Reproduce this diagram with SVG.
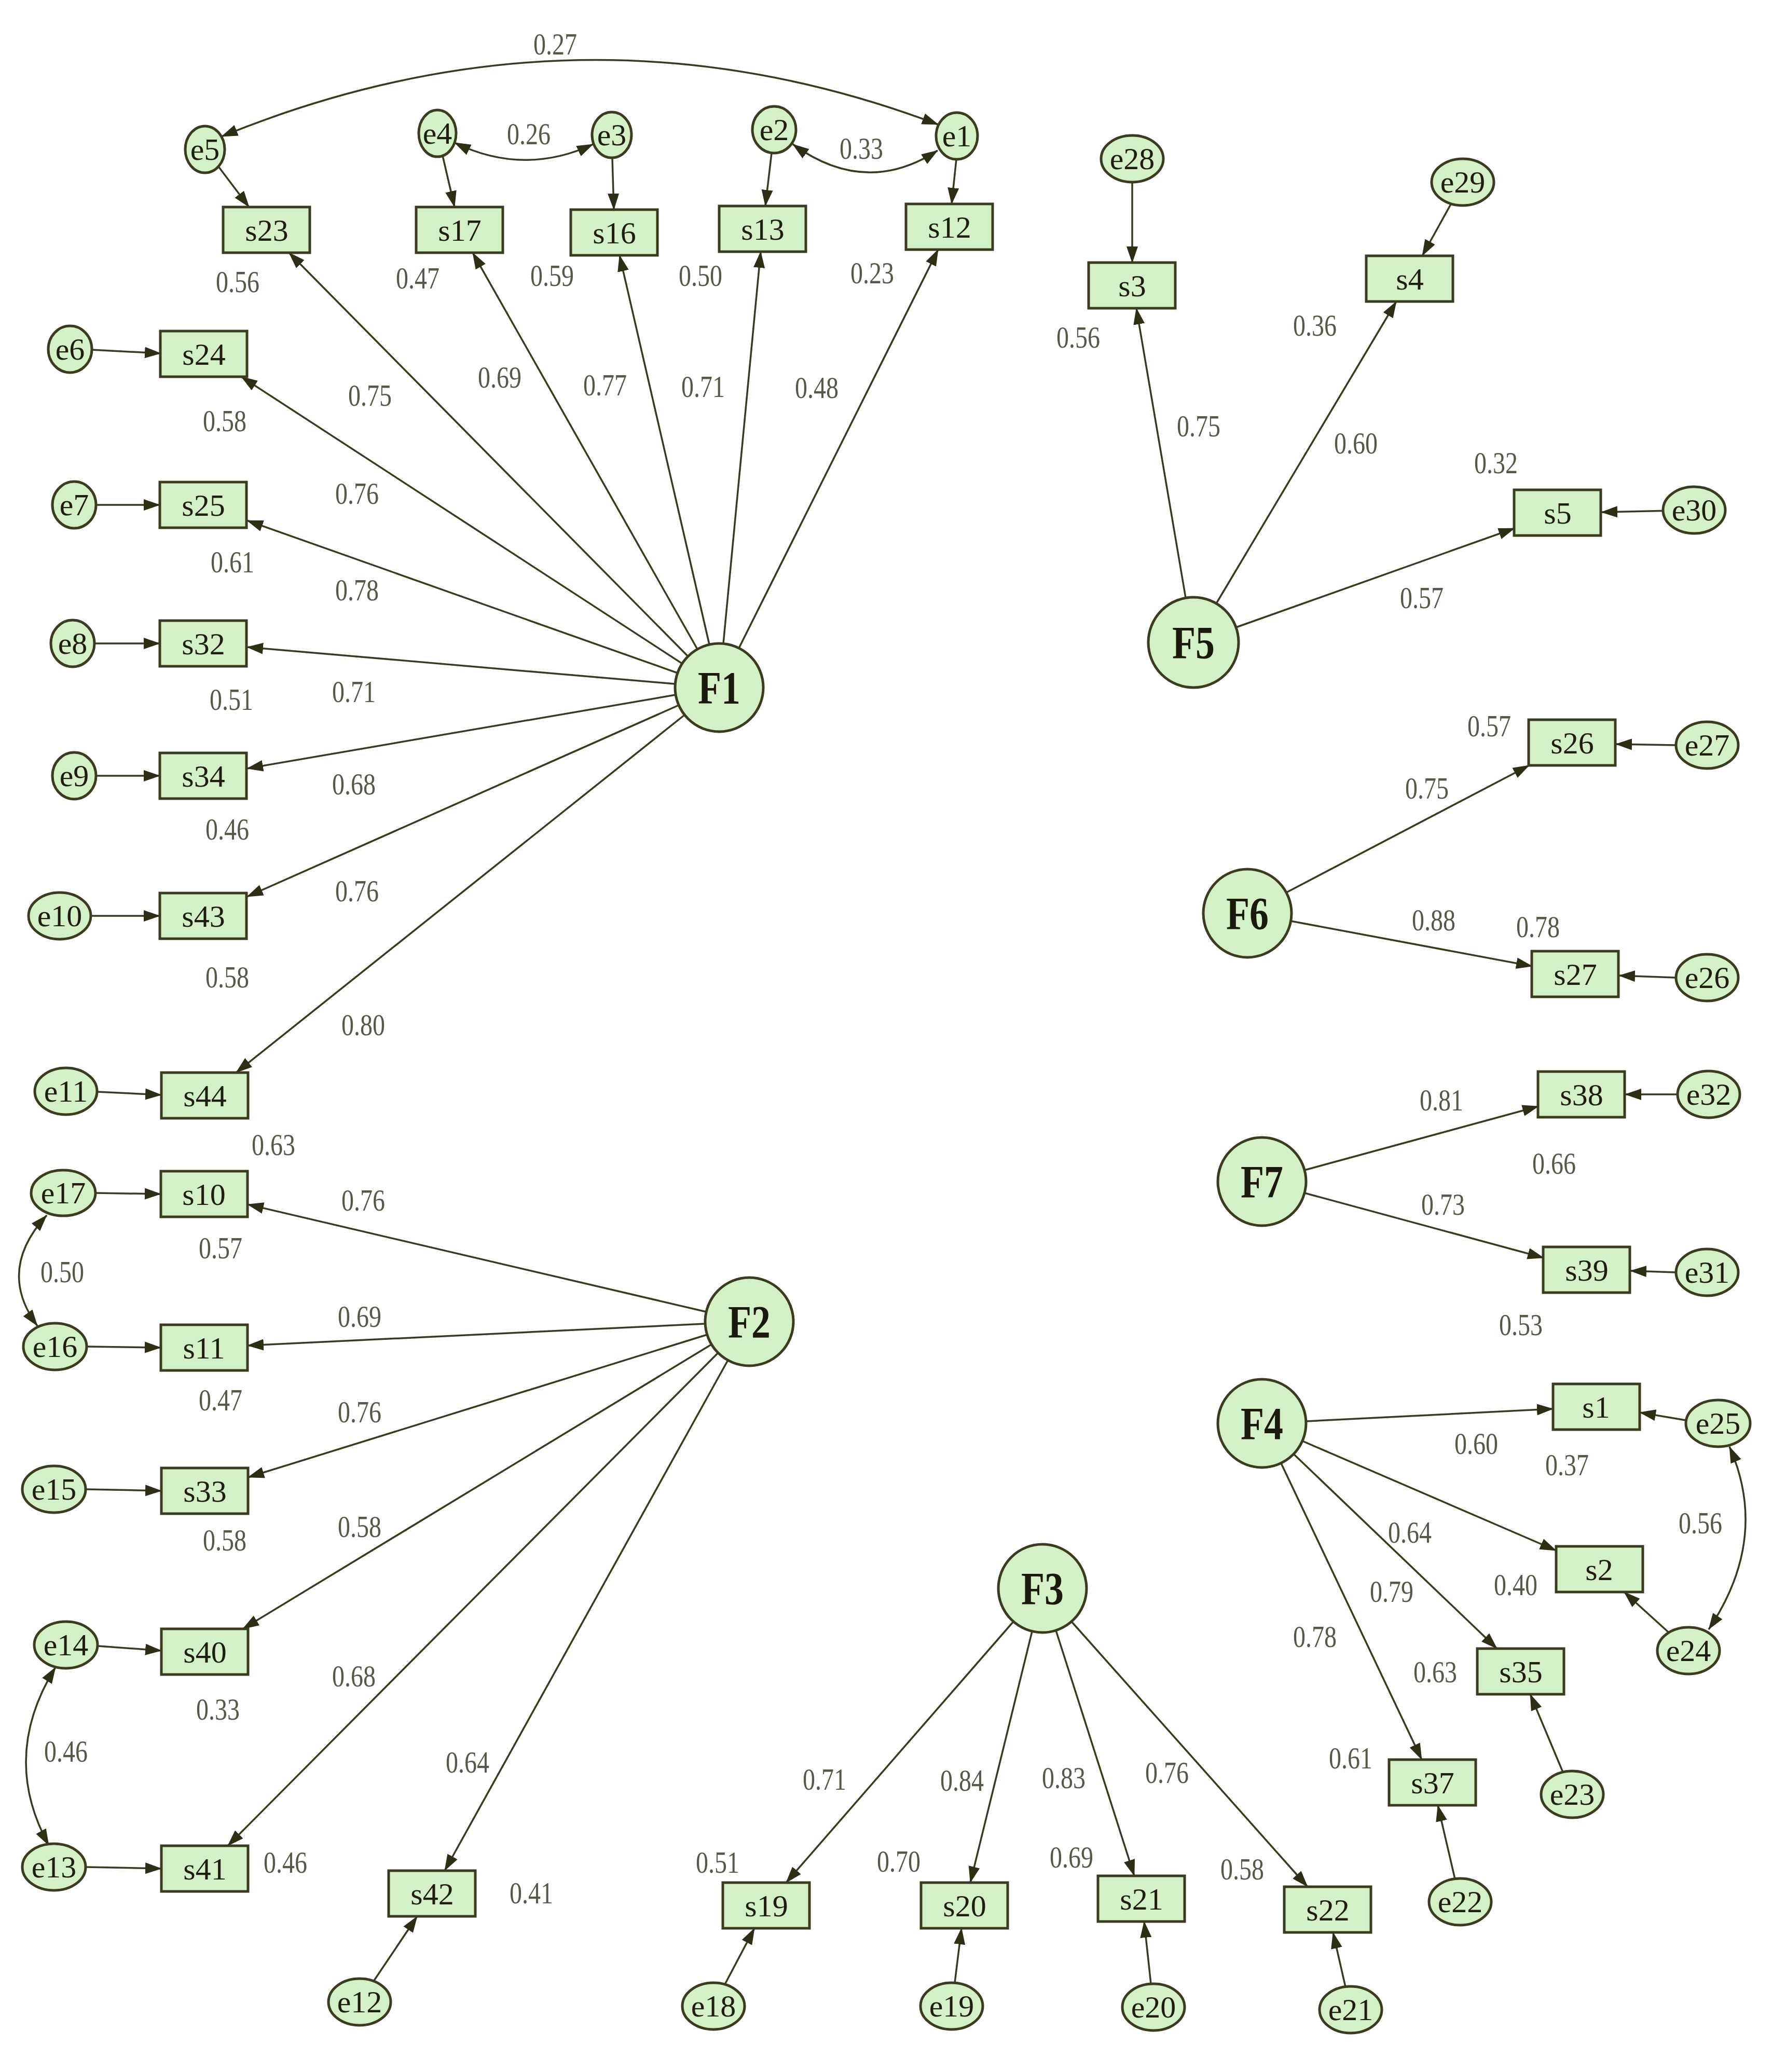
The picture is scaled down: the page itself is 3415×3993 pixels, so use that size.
<svg xmlns="http://www.w3.org/2000/svg" width="3415" height="3993" viewBox="0 0 3415 3993">
<style>
.box{fill:#d4f0c6;stroke:#3b3b20;stroke-width:5}
.lat{fill:#d4f0c6;stroke:#3b3b20;stroke-width:5}
.nt{font-family:"Liberation Serif",serif;font-size:60px;fill:#1e1e10;text-anchor:middle}
.ft{font-family:"Liberation Serif",serif;font-size:88px;font-weight:bold;fill:#1a1a0c;text-anchor:middle}
.lb{font-family:"Liberation Serif",serif;font-size:60px;fill:#58584a;text-anchor:middle}
.c{fill:none;stroke:#3a3a1e;stroke-width:3.5;marker-end:url(#ah)}
.cv{fill:none;stroke:#3a3a1e;stroke-width:3.5;marker-end:url(#ah);marker-start:url(#ah)}
</style>
<defs>
<marker id="ah" markerUnits="userSpaceOnUse" markerWidth="32" markerHeight="24" viewBox="0 0 32 24" refX="31" refY="12" orient="auto-start-reverse">
<path d="M0,1 L32,12 L0,23 Z" fill="#2e2e14"/>
</marker>
</defs>
<rect width="3415" height="3993" fill="#ffffff"/>

<g id="connectors">
<line class="c" x1="1326" y1="1265" x2="557" y2="487"/>
<line class="c" x1="1344" y1="1251" x2="911" y2="487"/>
<line class="c" x1="1367" y1="1242" x2="1194" y2="492"/>
<line class="c" x1="1394" y1="1240" x2="1466" y2="485"/>
<line class="c" x1="1424" y1="1249" x2="1808" y2="481"/>
<line class="c" x1="1315" y1="1279" x2="465" y2="726"/>
<line class="c" x1="1306" y1="1297" x2="476" y2="1003"/>
<line class="c" x1="1301" y1="1318" x2="476" y2="1247"/>
<line class="c" x1="1302" y1="1339" x2="476" y2="1481"/>
<line class="c" x1="1308" y1="1359" x2="476" y2="1728"/>
<line class="c" x1="1319" y1="1378" x2="455" y2="2067"/>
<line class="c" x1="1361" y1="2528" x2="477" y2="2321"/>
<line class="c" x1="1359" y1="2551" x2="477" y2="2593"/>
<line class="c" x1="1363" y1="2572" x2="478" y2="2847"/>
<line class="c" x1="1371" y1="2591" x2="468" y2="3139"/>
<line class="c" x1="1384" y1="2607" x2="439" y2="3557"/>
<line class="c" x1="1403" y1="2621" x2="857" y2="3605"/>
<line class="c" x1="1953" y1="3125" x2="1515" y2="3628"/>
<line class="c" x1="1989" y1="3144" x2="1870" y2="3628"/>
<line class="c" x1="2035" y1="3142" x2="2186" y2="3615"/>
<line class="c" x1="2065" y1="3125" x2="2520" y2="3636"/>
<line class="c" x1="2517" y1="2739" x2="2993" y2="2715"/>
<line class="c" x1="2510" y1="2777" x2="2999" y2="2988"/>
<line class="c" x1="2493" y1="2802" x2="2885" y2="3177"/>
<line class="c" x1="2469" y1="2820" x2="2740" y2="3391"/>
<line class="c" x1="2285" y1="1152" x2="2190" y2="594"/>
<line class="c" x1="2344" y1="1163" x2="2691" y2="581"/>
<line class="c" x1="2382" y1="1209" x2="2919" y2="1018"/>
<line class="c" x1="2479" y1="1720" x2="2947" y2="1475"/>
<line class="c" x1="2488" y1="1775" x2="2953" y2="1862"/>
<line class="c" x1="2514" y1="2255" x2="2965" y2="2132"/>
<line class="c" x1="2514" y1="2299" x2="2975" y2="2424"/>
<line class="c" x1="421" y1="321" x2="480" y2="399"/>
<line class="c" x1="853" y1="300" x2="876" y2="399"/>
<line class="c" x1="1180" y1="304" x2="1183" y2="404"/>
<line class="c" x1="1487" y1="295" x2="1475" y2="397"/>
<line class="c" x1="1843" y1="307" x2="1834" y2="393"/>
<line class="c" x1="177" y1="674" x2="310" y2="681"/>
<line class="c" x1="185" y1="973" x2="308" y2="973"/>
<line class="c" x1="182" y1="1240" x2="308" y2="1240"/>
<line class="c" x1="185" y1="1495" x2="308" y2="1495"/>
<line class="c" x1="175" y1="1765" x2="308" y2="1765"/>
<line class="c" x1="187" y1="2104" x2="311" y2="2110"/>
<line class="c" x1="184" y1="2299" x2="310" y2="2301"/>
<line class="c" x1="167" y1="2595" x2="310" y2="2597"/>
<line class="c" x1="165" y1="2870" x2="311" y2="2873"/>
<line class="c" x1="188" y1="3172" x2="311" y2="3181"/>
<line class="c" x1="165" y1="3598" x2="311" y2="3601"/>
<line class="c" x1="720" y1="3818" x2="804" y2="3693"/>
<line class="c" x1="1397" y1="3824" x2="1454" y2="3716"/>
<line class="c" x1="1840" y1="3821" x2="1853" y2="3716"/>
<line class="c" x1="2218" y1="3823" x2="2205" y2="3703"/>
<line class="c" x1="2593" y1="3829" x2="2569" y2="3724"/>
<line class="c" x1="2804" y1="3621" x2="2771" y2="3479"/>
<line class="c" x1="3012" y1="3415" x2="2949" y2="3265"/>
<line class="c" x1="3216" y1="3146" x2="3130" y2="3068"/>
<line class="c" x1="3249" y1="2737" x2="3160" y2="2722"/>
<line class="c" x1="3230" y1="1884" x2="3120" y2="1880"/>
<line class="c" x1="3230" y1="1436" x2="3114" y2="1434"/>
<line class="c" x1="2182" y1="351" x2="2182" y2="506"/>
<line class="c" x1="2798" y1="390" x2="2741" y2="493"/>
<line class="c" x1="3222" y1="984" x2="3086" y2="987"/>
<line class="c" x1="3230" y1="2452" x2="3142" y2="2449"/>
<line class="c" x1="3233" y1="2109" x2="3132" y2="2109"/>
<path class="cv" d="M1808,240 Q1120,-20 427,263"/>
<path class="cv" d="M876,275 Q1010,340 1143,278"/>
<path class="cv" d="M1528,278 Q1668,380 1807,290"/>
<path class="cv" d="M90,2342 Q-7,2448 72,2555"/>
<path class="cv" d="M107,3213 Q0,3385 94,3556"/>
<path class="cv" d="M3333,2788 Q3411,2964 3293,3140"/>
</g>

<g id="F1"><circle class="lat" cx="1386" cy="1325" r="85"/><text class="ft" x="1386" y="1355" textLength="82" lengthAdjust="spacingAndGlyphs">F1</text></g>
<g id="F2"><circle class="lat" cx="1444" cy="2547" r="85"/><text class="ft" x="1444" y="2577" textLength="82" lengthAdjust="spacingAndGlyphs">F2</text></g>
<g id="F3"><circle class="lat" cx="2009" cy="3061" r="85"/><text class="ft" x="2009" y="3091" textLength="82" lengthAdjust="spacingAndGlyphs">F3</text></g>
<g id="F4"><circle class="lat" cx="2432" cy="2743" r="85"/><text class="ft" x="2432" y="2773" textLength="82" lengthAdjust="spacingAndGlyphs">F4</text></g>
<g id="F5"><circle class="lat" cx="2300" cy="1238" r="87"/><text class="ft" x="2300" y="1268" textLength="82" lengthAdjust="spacingAndGlyphs">F5</text></g>
<g id="F6"><circle class="lat" cx="2404" cy="1760" r="85"/><text class="ft" x="2404" y="1790" textLength="82" lengthAdjust="spacingAndGlyphs">F6</text></g>
<g id="F7"><circle class="lat" cx="2432" cy="2277" r="85"/><text class="ft" x="2432" y="2307" textLength="82" lengthAdjust="spacingAndGlyphs">F7</text></g>

<g id="s23"><rect class="box" x="430" y="399" width="167" height="88"/><text class="nt" x="514" y="464">s23</text></g>
<g id="s17"><rect class="box" x="802" y="399" width="167" height="88"/><text class="nt" x="886" y="464">s17</text></g>
<g id="s16"><rect class="box" x="1100" y="404" width="167" height="88"/><text class="nt" x="1184" y="469">s16</text></g>
<g id="s13"><rect class="box" x="1386" y="397" width="167" height="88"/><text class="nt" x="1470" y="462">s13</text></g>
<g id="s12"><rect class="box" x="1746" y="393" width="167" height="88"/><text class="nt" x="1830" y="458">s12</text></g>
<g id="s24"><rect class="box" x="309" y="638" width="167" height="88"/><text class="nt" x="393" y="703">s24</text></g>
<g id="s25"><rect class="box" x="308" y="929" width="167" height="88"/><text class="nt" x="392" y="994">s25</text></g>
<g id="s32"><rect class="box" x="308" y="1196" width="167" height="88"/><text class="nt" x="392" y="1261">s32</text></g>
<g id="s34"><rect class="box" x="308" y="1451" width="167" height="88"/><text class="nt" x="392" y="1516">s34</text></g>
<g id="s43"><rect class="box" x="308" y="1721" width="167" height="88"/><text class="nt" x="392" y="1786">s43</text></g>
<g id="s44"><rect class="box" x="311" y="2067" width="167" height="88"/><text class="nt" x="395" y="2132">s44</text></g>
<g id="s10"><rect class="box" x="310" y="2257" width="167" height="88"/><text class="nt" x="393" y="2322">s10</text></g>
<g id="s11"><rect class="box" x="310" y="2553" width="167" height="88"/><text class="nt" x="393" y="2618">s11</text></g>
<g id="s33"><rect class="box" x="311" y="2829" width="167" height="88"/><text class="nt" x="395" y="2894">s33</text></g>
<g id="s40"><rect class="box" x="311" y="3139" width="167" height="88"/><text class="nt" x="395" y="3204">s40</text></g>
<g id="s41"><rect class="box" x="311" y="3557" width="167" height="88"/><text class="nt" x="395" y="3622">s41</text></g>
<g id="s42"><rect class="box" x="749" y="3605" width="167" height="88"/><text class="nt" x="833" y="3670">s42</text></g>
<g id="s19"><rect class="box" x="1393" y="3628" width="167" height="88"/><text class="nt" x="1477" y="3693">s19</text></g>
<g id="s20"><rect class="box" x="1775" y="3628" width="167" height="88"/><text class="nt" x="1859" y="3693">s20</text></g>
<g id="s21"><rect class="box" x="2116" y="3615" width="167" height="88"/><text class="nt" x="2200" y="3680">s21</text></g>
<g id="s22"><rect class="box" x="2475" y="3636" width="167" height="88"/><text class="nt" x="2559" y="3701">s22</text></g>
<g id="s1"><rect class="box" x="2993" y="2667" width="167" height="88"/><text class="nt" x="3076" y="2732">s1</text></g>
<g id="s2"><rect class="box" x="2999" y="2980" width="167" height="88"/><text class="nt" x="3082" y="3045">s2</text></g>
<g id="s35"><rect class="box" x="2847" y="3177" width="167" height="88"/><text class="nt" x="2931" y="3242">s35</text></g>
<g id="s37"><rect class="box" x="2677" y="3391" width="167" height="88"/><text class="nt" x="2761" y="3456">s37</text></g>
<g id="s3"><rect class="box" x="2098" y="506" width="167" height="88"/><text class="nt" x="2182" y="571">s3</text></g>
<g id="s4"><rect class="box" x="2633" y="493" width="167" height="88"/><text class="nt" x="2717" y="558">s4</text></g>
<g id="s5"><rect class="box" x="2918" y="944" width="167" height="88"/><text class="nt" x="3002" y="1009">s5</text></g>
<g id="s26"><rect class="box" x="2946" y="1387" width="167" height="88"/><text class="nt" x="3030" y="1452">s26</text></g>
<g id="s27"><rect class="box" x="2952" y="1833" width="167" height="88"/><text class="nt" x="3036" y="1898">s27</text></g>
<g id="s38"><rect class="box" x="2964" y="2065" width="167" height="88"/><text class="nt" x="3048" y="2130">s38</text></g>
<g id="s39"><rect class="box" x="2974" y="2403" width="167" height="88"/><text class="nt" x="3058" y="2468">s39</text></g>

<g id="e1"><ellipse class="lat" cx="1844" cy="262" rx="40" ry="45"/><text class="nt" x="1844" y="282">e1</text></g>
<g id="e2"><ellipse class="lat" cx="1492" cy="250" rx="42" ry="45"/><text class="nt" x="1492" y="270">e2</text></g>
<g id="e3"><ellipse class="lat" cx="1179" cy="260" rx="38" ry="44"/><text class="nt" x="1179" y="280">e3</text></g>
<g id="e4"><ellipse class="lat" cx="843" cy="257" rx="36" ry="45"/><text class="nt" x="843" y="277">e4</text></g>
<g id="e5"><ellipse class="lat" cx="395" cy="288" rx="38" ry="45"/><text class="nt" x="395" y="308">e5</text></g>
<g id="e6"><ellipse class="lat" cx="135" cy="673" rx="42" ry="45"/><text class="nt" x="135" y="693">e6</text></g>
<g id="e7"><ellipse class="lat" cx="143" cy="973" rx="42" ry="45"/><text class="nt" x="143" y="993">e7</text></g>
<g id="e8"><ellipse class="lat" cx="140" cy="1240" rx="42" ry="45"/><text class="nt" x="140" y="1260">e8</text></g>
<g id="e9"><ellipse class="lat" cx="143" cy="1495" rx="42" ry="45"/><text class="nt" x="143" y="1515">e9</text></g>
<g id="e10"><ellipse class="lat" cx="115" cy="1765" rx="60" ry="45"/><text class="nt" x="115" y="1785">e10</text></g>
<g id="e11"><ellipse class="lat" cx="127" cy="2103" rx="60" ry="45"/><text class="nt" x="127" y="2123">e11</text></g>
<g id="e17"><ellipse class="lat" cx="122" cy="2299" rx="62" ry="44"/><text class="nt" x="122" y="2319">e17</text></g>
<g id="e16"><ellipse class="lat" cx="106" cy="2595" rx="61" ry="45"/><text class="nt" x="106" y="2615">e16</text></g>
<g id="e15"><ellipse class="lat" cx="104" cy="2870" rx="61" ry="45"/><text class="nt" x="104" y="2890">e15</text></g>
<g id="e14"><ellipse class="lat" cx="127" cy="3170" rx="61" ry="45"/><text class="nt" x="127" y="3190">e14</text></g>
<g id="e13"><ellipse class="lat" cx="104" cy="3598" rx="61" ry="45"/><text class="nt" x="104" y="3618">e13</text></g>
<g id="e12"><ellipse class="lat" cx="693" cy="3858" rx="60" ry="45"/><text class="nt" x="693" y="3878">e12</text></g>
<g id="e18"><ellipse class="lat" cx="1375" cy="3866" rx="60" ry="45"/><text class="nt" x="1375" y="3886">e18</text></g>
<g id="e19"><ellipse class="lat" cx="1834" cy="3866" rx="60" ry="45"/><text class="nt" x="1834" y="3886">e19</text></g>
<g id="e20"><ellipse class="lat" cx="2223" cy="3868" rx="60" ry="45"/><text class="nt" x="2223" y="3888">e20</text></g>
<g id="e21"><ellipse class="lat" cx="2603" cy="3873" rx="60" ry="45"/><text class="nt" x="2603" y="3893">e21</text></g>
<g id="e22"><ellipse class="lat" cx="2814" cy="3665" rx="60" ry="45"/><text class="nt" x="2814" y="3685">e22</text></g>
<g id="e23"><ellipse class="lat" cx="3030" cy="3458" rx="60" ry="45"/><text class="nt" x="3030" y="3478">e23</text></g>
<g id="e24"><ellipse class="lat" cx="3254" cy="3181" rx="60" ry="45"/><text class="nt" x="3254" y="3201">e24</text></g>
<g id="e25"><ellipse class="lat" cx="3311" cy="2743" rx="62" ry="45"/><text class="nt" x="3311" y="2763">e25</text></g>
<g id="e26"><ellipse class="lat" cx="3290" cy="1884" rx="60" ry="45"/><text class="nt" x="3290" y="1904">e26</text></g>
<g id="e27"><ellipse class="lat" cx="3290" cy="1436" rx="60" ry="45"/><text class="nt" x="3290" y="1456">e27</text></g>
<g id="e28"><ellipse class="lat" cx="2182" cy="306" rx="60" ry="45"/><text class="nt" x="2182" y="326">e28</text></g>
<g id="e29"><ellipse class="lat" cx="2819" cy="351" rx="60" ry="45"/><text class="nt" x="2819" y="371">e29</text></g>
<g id="e30"><ellipse class="lat" cx="3265" cy="983" rx="60" ry="45"/><text class="nt" x="3265" y="1003">e30</text></g>
<g id="e31"><ellipse class="lat" cx="3290" cy="2452" rx="60" ry="45"/><text class="nt" x="3290" y="2472">e31</text></g>
<g id="e32"><ellipse class="lat" cx="3293" cy="2109" rx="60" ry="45"/><text class="nt" x="3293" y="2129">e32</text></g>

<g id="labels">
<text class="lb" x="1070" y="105" textLength="84" lengthAdjust="spacingAndGlyphs">0.27</text>
<text class="lb" x="1019" y="278" textLength="84" lengthAdjust="spacingAndGlyphs">0.26</text>
<text class="lb" x="1660" y="306" textLength="84" lengthAdjust="spacingAndGlyphs">0.33</text>
<text class="lb" x="458" y="563" textLength="84" lengthAdjust="spacingAndGlyphs">0.56</text>
<text class="lb" x="805" y="556" textLength="84" lengthAdjust="spacingAndGlyphs">0.47</text>
<text class="lb" x="1064" y="551" textLength="84" lengthAdjust="spacingAndGlyphs">0.59</text>
<text class="lb" x="1350" y="551" textLength="84" lengthAdjust="spacingAndGlyphs">0.50</text>
<text class="lb" x="1681" y="546" textLength="84" lengthAdjust="spacingAndGlyphs">0.23</text>
<text class="lb" x="713" y="782" textLength="84" lengthAdjust="spacingAndGlyphs">0.75</text>
<text class="lb" x="963" y="747" textLength="84" lengthAdjust="spacingAndGlyphs">0.69</text>
<text class="lb" x="1166" y="762" textLength="84" lengthAdjust="spacingAndGlyphs">0.77</text>
<text class="lb" x="1355" y="765" textLength="84" lengthAdjust="spacingAndGlyphs">0.71</text>
<text class="lb" x="1574" y="767" textLength="84" lengthAdjust="spacingAndGlyphs">0.48</text>
<text class="lb" x="433" y="831" textLength="84" lengthAdjust="spacingAndGlyphs">0.58</text>
<text class="lb" x="448" y="1103" textLength="84" lengthAdjust="spacingAndGlyphs">0.61</text>
<text class="lb" x="446" y="1368" textLength="84" lengthAdjust="spacingAndGlyphs">0.51</text>
<text class="lb" x="438" y="1618" textLength="84" lengthAdjust="spacingAndGlyphs">0.46</text>
<text class="lb" x="438" y="1903" textLength="84" lengthAdjust="spacingAndGlyphs">0.58</text>
<text class="lb" x="527" y="2226" textLength="84" lengthAdjust="spacingAndGlyphs">0.63</text>
<text class="lb" x="688" y="971" textLength="84" lengthAdjust="spacingAndGlyphs">0.76</text>
<text class="lb" x="688" y="1157" textLength="84" lengthAdjust="spacingAndGlyphs">0.78</text>
<text class="lb" x="682" y="1353" textLength="84" lengthAdjust="spacingAndGlyphs">0.71</text>
<text class="lb" x="682" y="1531" textLength="84" lengthAdjust="spacingAndGlyphs">0.68</text>
<text class="lb" x="688" y="1737" textLength="84" lengthAdjust="spacingAndGlyphs">0.76</text>
<text class="lb" x="700" y="1995" textLength="84" lengthAdjust="spacingAndGlyphs">0.80</text>
<text class="lb" x="425" y="2425" textLength="84" lengthAdjust="spacingAndGlyphs">0.57</text>
<text class="lb" x="425" y="2718" textLength="84" lengthAdjust="spacingAndGlyphs">0.47</text>
<text class="lb" x="433" y="2988" textLength="84" lengthAdjust="spacingAndGlyphs">0.58</text>
<text class="lb" x="420" y="3314" textLength="84" lengthAdjust="spacingAndGlyphs">0.33</text>
<text class="lb" x="550" y="3609" textLength="84" lengthAdjust="spacingAndGlyphs">0.46</text>
<text class="lb" x="1024" y="3668" textLength="84" lengthAdjust="spacingAndGlyphs">0.41</text>
<text class="lb" x="700" y="2333" textLength="84" lengthAdjust="spacingAndGlyphs">0.76</text>
<text class="lb" x="693" y="2557" textLength="84" lengthAdjust="spacingAndGlyphs">0.69</text>
<text class="lb" x="693" y="2741" textLength="84" lengthAdjust="spacingAndGlyphs">0.76</text>
<text class="lb" x="693" y="2962" textLength="84" lengthAdjust="spacingAndGlyphs">0.58</text>
<text class="lb" x="682" y="3250" textLength="84" lengthAdjust="spacingAndGlyphs">0.68</text>
<text class="lb" x="901" y="3416" textLength="84" lengthAdjust="spacingAndGlyphs">0.64</text>
<text class="lb" x="120" y="2471" textLength="84" lengthAdjust="spacingAndGlyphs">0.50</text>
<text class="lb" x="127" y="3395" textLength="84" lengthAdjust="spacingAndGlyphs">0.46</text>
<text class="lb" x="1589" y="3449" textLength="84" lengthAdjust="spacingAndGlyphs">0.71</text>
<text class="lb" x="1854" y="3451" textLength="84" lengthAdjust="spacingAndGlyphs">0.84</text>
<text class="lb" x="2050" y="3446" textLength="84" lengthAdjust="spacingAndGlyphs">0.83</text>
<text class="lb" x="2249" y="3436" textLength="84" lengthAdjust="spacingAndGlyphs">0.76</text>
<text class="lb" x="1383" y="3609" textLength="84" lengthAdjust="spacingAndGlyphs">0.51</text>
<text class="lb" x="1732" y="3607" textLength="84" lengthAdjust="spacingAndGlyphs">0.70</text>
<text class="lb" x="2065" y="3599" textLength="84" lengthAdjust="spacingAndGlyphs">0.69</text>
<text class="lb" x="2394" y="3622" textLength="84" lengthAdjust="spacingAndGlyphs">0.58</text>
<text class="lb" x="2845" y="2802" textLength="84" lengthAdjust="spacingAndGlyphs">0.60</text>
<text class="lb" x="2717" y="2973" textLength="84" lengthAdjust="spacingAndGlyphs">0.64</text>
<text class="lb" x="2682" y="3087" textLength="84" lengthAdjust="spacingAndGlyphs">0.79</text>
<text class="lb" x="2534" y="3174" textLength="84" lengthAdjust="spacingAndGlyphs">0.78</text>
<text class="lb" x="3020" y="2843" textLength="84" lengthAdjust="spacingAndGlyphs">0.37</text>
<text class="lb" x="2921" y="3074" textLength="84" lengthAdjust="spacingAndGlyphs">0.40</text>
<text class="lb" x="2766" y="3242" textLength="84" lengthAdjust="spacingAndGlyphs">0.63</text>
<text class="lb" x="2603" y="3408" textLength="84" lengthAdjust="spacingAndGlyphs">0.61</text>
<text class="lb" x="3277" y="2955" textLength="84" lengthAdjust="spacingAndGlyphs">0.56</text>
<text class="lb" x="2078" y="670" textLength="84" lengthAdjust="spacingAndGlyphs">0.56</text>
<text class="lb" x="2534" y="647" textLength="84" lengthAdjust="spacingAndGlyphs">0.36</text>
<text class="lb" x="2883" y="912" textLength="84" lengthAdjust="spacingAndGlyphs">0.32</text>
<text class="lb" x="2310" y="841" textLength="84" lengthAdjust="spacingAndGlyphs">0.75</text>
<text class="lb" x="2613" y="874" textLength="84" lengthAdjust="spacingAndGlyphs">0.60</text>
<text class="lb" x="2740" y="1172" textLength="84" lengthAdjust="spacingAndGlyphs">0.57</text>
<text class="lb" x="2870" y="1419" textLength="84" lengthAdjust="spacingAndGlyphs">0.57</text>
<text class="lb" x="2964" y="1806" textLength="84" lengthAdjust="spacingAndGlyphs">0.78</text>
<text class="lb" x="2750" y="1539" textLength="84" lengthAdjust="spacingAndGlyphs">0.75</text>
<text class="lb" x="2763" y="1793" textLength="84" lengthAdjust="spacingAndGlyphs">0.88</text>
<text class="lb" x="2778" y="2140" textLength="84" lengthAdjust="spacingAndGlyphs">0.81</text>
<text class="lb" x="2781" y="2341" textLength="84" lengthAdjust="spacingAndGlyphs">0.73</text>
<text class="lb" x="2995" y="2262" textLength="84" lengthAdjust="spacingAndGlyphs">0.66</text>
<text class="lb" x="2931" y="2573" textLength="84" lengthAdjust="spacingAndGlyphs">0.53</text>
</g>
</svg>
